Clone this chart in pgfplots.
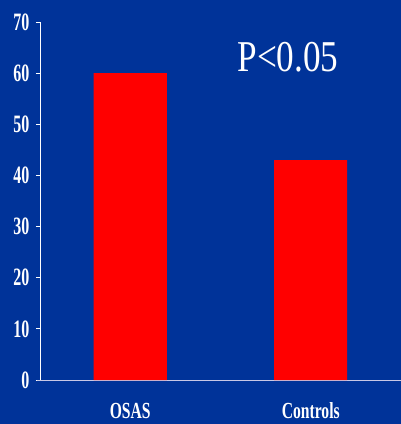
\documentclass[border=0pt]{standalone}
\usepackage{pgfplots}
\pgfplotsset{compat=1.18}
\usepackage{fontspec}
\setmainfont{Liberation Serif}
\newfontfamily\cond{Liberation Serif}[FakeStretch=0.64]
\newfontfamily\xcond{Liberation Serif}[FakeStretch=0.68]
\newfontfamily\pfont{Liberation Serif}[FakeStretch=0.8]
\definecolor{bg}{RGB}{0,51,153}
\definecolor{barred}{RGB}{255,0,0}
\definecolor{xline}{RGB}{200,200,230}
\begin{document}
\begin{tikzpicture}[x=1pt,y=1pt]
\fill[bg] (0,0) rectangle (401,424);
\begin{axis}[
  scale only axis, width=361pt, height=358pt,
  at={(40pt,44pt)}, anchor=south west,
  xmin=-0.5, xmax=1.5, ymin=0, ymax=70,
  axis x line=bottom, axis y line=left,
  x axis line style={-, draw=xline, line width=1pt, shorten <=-3pt},
  y axis line style={-, draw=white, line width=0.8pt},
  ytick={0,10,...,70},
  xtick={0,1}, xticklabels={OSAS,Controls},
  tick align=outside, major tick length=4pt,
  ytick style={draw=white, line width=0.8pt},
  xtick style={draw=none},
  /pgf/number format/assume math mode=true,
  yticklabel style={font=\cond\bfseries\fontsize{25}{25}\selectfont, text=white, anchor=east, xshift=-3pt},
  xticklabel style={font=\xcond\bfseries\fontsize{23}{23}\selectfont, text=white, anchor=center, yshift=-27pt},
  clip=false,
]
\addplot[ybar, bar width=73pt, fill=barred, draw=none] coordinates {(0,60) (1,43)};
\end{axis}
\node[text=white, font=\pfont\fontsize{44}{44}\selectfont] at (288,366.5) {P<0.05};
\pgfresetboundingbox
\path (0,0) rectangle (401,424);
\end{tikzpicture}
\end{document}
